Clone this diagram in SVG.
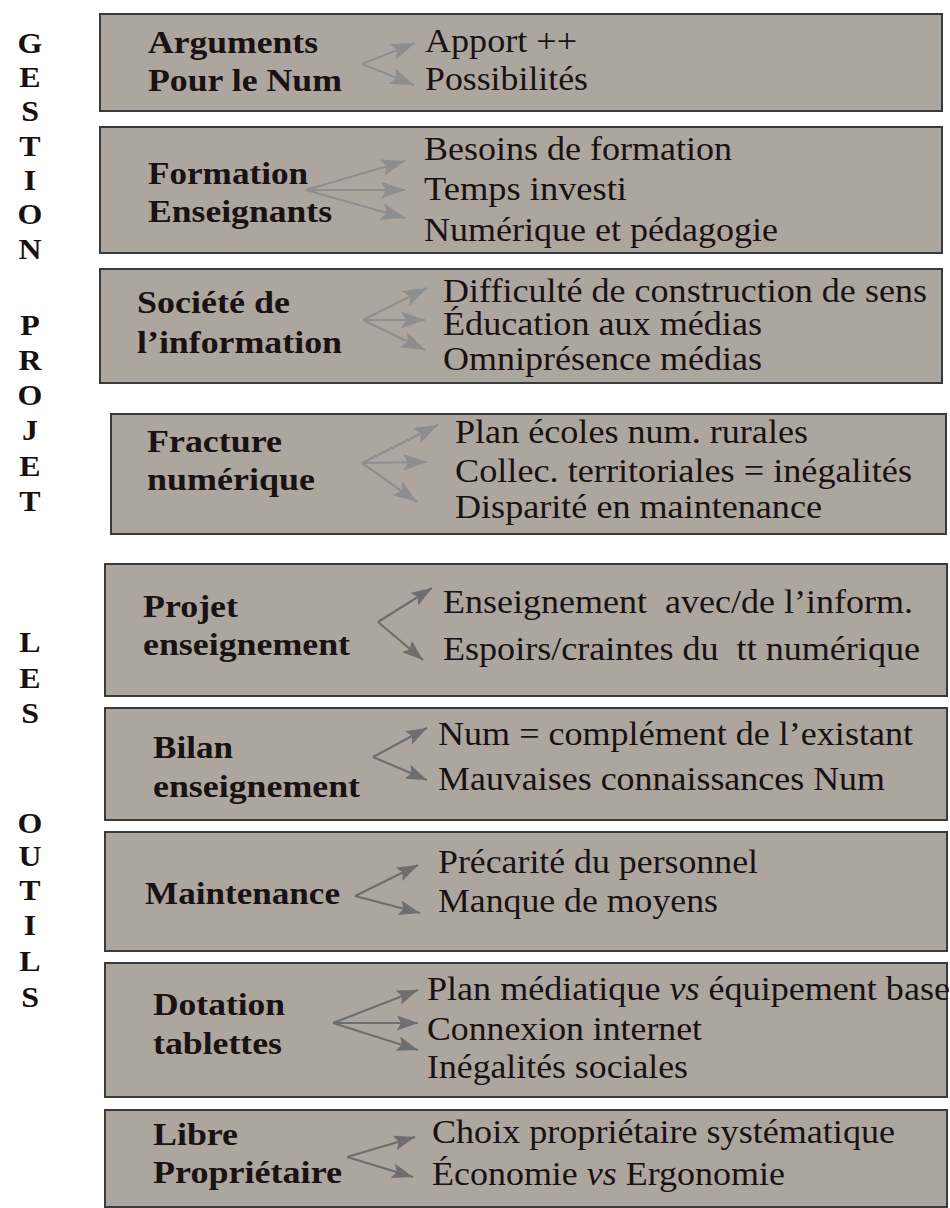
<svg xmlns="http://www.w3.org/2000/svg" width="950" height="1208" viewBox="0 0 950 1208">
<style>
.box{fill:#aca69f;stroke:#3a3a3a;stroke-width:2}
.t{font-family:"Liberation Serif","Times New Roman",serif;font-weight:bold;font-size:32px;fill:#1a1212}
.i{font-family:"Liberation Serif","Times New Roman",serif;font-size:33px;fill:#1a1212}
.side{font-family:"Liberation Serif","Times New Roman",serif;font-weight:bold;font-size:29px;fill:#161010;text-anchor:middle}
.a1{stroke:#8e8e8e;stroke-width:2.2;fill:none;marker-end:url(#h1)}
.a2{stroke:#6e6e6e;stroke-width:2.2;fill:none;marker-end:url(#h2)}
</style>
<defs>
<marker id="h1" markerUnits="userSpaceOnUse" markerWidth="26" markerHeight="18" refX="24" refY="8.5" orient="auto"><path d="M0,0 L24,8.5 L0,17 L5,8.5 z" fill="#8e8e8e"/></marker>
<marker id="h2" markerUnits="userSpaceOnUse" markerWidth="24" markerHeight="16" refX="21" refY="7.5" orient="auto"><path d="M0,0 L21,7.5 L0,15 L4,7.5 z" fill="#6e6e6e"/></marker>
</defs>
<rect width="950" height="1208" fill="#ffffff"/>
<g id="side" transform="translate(30,0) scale(1.1,1)">
<text class="side" x="0" y="53">G</text>
<text class="side" x="0" y="87">E</text>
<text class="side" x="0" y="121">S</text>
<text class="side" x="0" y="156">T</text>
<text class="side" x="0" y="190">I</text>
<text class="side" x="0" y="224">O</text>
<text class="side" x="0" y="259">N</text>
<text class="side" x="0" y="335">P</text>
<text class="side" x="0" y="370">R</text>
<text class="side" x="0" y="405">O</text>
<text class="side" x="0" y="440">J</text>
<text class="side" x="0" y="476">E</text>
<text class="side" x="0" y="511">T</text>
<text class="side" x="0" y="652">L</text>
<text class="side" x="0" y="688">E</text>
<text class="side" x="0" y="723">S</text>
<text class="side" x="0" y="833">O</text>
<text class="side" x="0" y="866">U</text>
<text class="side" x="0" y="900">T</text>
<text class="side" x="0" y="935">I</text>
<text class="side" x="0" y="971">L</text>
<text class="side" x="0" y="1007">S</text>
</g>
<g id="n1">
<rect class="box" x="100" y="14" width="842" height="97"/>
<text class="t" x="148" y="53" textLength="170" lengthAdjust="spacingAndGlyphs">Arguments</text>
<text class="t" x="148" y="91" textLength="194" lengthAdjust="spacingAndGlyphs">Pour le Num</text>
<text class="i" x="425" y="52" textLength="152" lengthAdjust="spacingAndGlyphs">Apport ++</text>
<text class="i" x="425" y="90" textLength="163" lengthAdjust="spacingAndGlyphs">Possibilités</text>
</g>
<g id="n2">
<rect class="box" x="100" y="127" width="842" height="126"/>
<text class="t" x="148" y="184" textLength="160" lengthAdjust="spacingAndGlyphs">Formation</text>
<text class="t" x="148" y="222" textLength="184" lengthAdjust="spacingAndGlyphs">Enseignants</text>
<text class="i" x="424" y="160" textLength="308" lengthAdjust="spacingAndGlyphs">Besoins de formation</text>
<text class="i" x="424" y="200" textLength="203" lengthAdjust="spacingAndGlyphs">Temps investi</text>
<text class="i" x="424" y="241" textLength="354" lengthAdjust="spacingAndGlyphs">Numérique et pédagogie</text>
</g>
<g id="n3">
<rect class="box" x="100" y="269" width="842" height="114"/>
<text class="t" x="137" y="313" textLength="153" lengthAdjust="spacingAndGlyphs">Société de</text>
<text class="t" x="137" y="353" textLength="205" lengthAdjust="spacingAndGlyphs">l’information</text>
<text class="i" x="443" y="302" textLength="484" lengthAdjust="spacingAndGlyphs">Difficulté de construction de sens</text>
<text class="i" x="443" y="335" textLength="319" lengthAdjust="spacingAndGlyphs">Éducation aux médias</text>
<text class="i" x="443" y="370" textLength="319" lengthAdjust="spacingAndGlyphs">Omniprésence médias</text>
</g>
<g id="n4">
<rect class="box" x="111" y="414" width="835" height="120"/>
<text class="t" x="147" y="452" textLength="135" lengthAdjust="spacingAndGlyphs">Fracture</text>
<text class="t" x="147" y="490" textLength="168" lengthAdjust="spacingAndGlyphs">numérique</text>
<text class="i" x="455" y="443" textLength="353" lengthAdjust="spacingAndGlyphs">Plan écoles num. rurales</text>
<text class="i" x="455" y="482" textLength="457" lengthAdjust="spacingAndGlyphs">Collec. territoriales = inégalités</text>
<text class="i" x="455" y="518" textLength="367" lengthAdjust="spacingAndGlyphs">Disparité en maintenance</text>
</g>
<g id="n5">
<rect class="box" x="105" y="564" width="842" height="132"/>
<text class="t" x="143" y="617" textLength="95" lengthAdjust="spacingAndGlyphs">Projet</text>
<text class="t" x="143" y="655" textLength="207" lengthAdjust="spacingAndGlyphs">enseignement</text>
<text class="i" x="443" y="613" textLength="470" lengthAdjust="spacingAndGlyphs">Enseignement &#160;avec/de l’inform.</text>
<text class="i" x="443" y="660" textLength="477" lengthAdjust="spacingAndGlyphs">Espoirs/craintes du &#160;tt numérique</text>
</g>
<g id="n6">
<rect class="box" x="105" y="708" width="842" height="112"/>
<text class="t" x="153" y="758" textLength="80" lengthAdjust="spacingAndGlyphs">Bilan</text>
<text class="t" x="153" y="797" textLength="207" lengthAdjust="spacingAndGlyphs">enseignement</text>
<text class="i" x="438" y="745" textLength="475" lengthAdjust="spacingAndGlyphs">Num = complément de l’existant</text>
<text class="i" x="438" y="790" textLength="447" lengthAdjust="spacingAndGlyphs">Mauvaises connaissances Num</text>
</g>
<g id="n7">
<rect class="box" x="105" y="832" width="842" height="119"/>
<text class="t" x="145" y="904" textLength="195" lengthAdjust="spacingAndGlyphs">Maintenance</text>
<text class="i" x="438" y="873" textLength="320" lengthAdjust="spacingAndGlyphs">Précarité du personnel</text>
<text class="i" x="438" y="912" textLength="280" lengthAdjust="spacingAndGlyphs">Manque de moyens</text>
</g>
<g id="n8">
<rect class="box" x="105" y="963" width="842" height="134"/>
<text class="t" x="153" y="1015" textLength="132" lengthAdjust="spacingAndGlyphs">Dotation</text>
<text class="t" x="153" y="1054" textLength="129" lengthAdjust="spacingAndGlyphs">tablettes</text>
<text class="i" x="427" y="1000" textLength="523" lengthAdjust="spacingAndGlyphs">Plan médiatique <tspan font-style="italic">vs</tspan> équipement base</text>
<text class="i" x="427" y="1040" textLength="275" lengthAdjust="spacingAndGlyphs">Connexion internet</text>
<text class="i" x="427" y="1078" textLength="261" lengthAdjust="spacingAndGlyphs">Inégalités sociales</text>
</g>
<g id="n9">
<rect class="box" x="105" y="1110" width="842" height="97"/>
<text class="t" x="153" y="1145" textLength="85" lengthAdjust="spacingAndGlyphs">Libre</text>
<text class="t" x="153" y="1183" textLength="189" lengthAdjust="spacingAndGlyphs">Propriétaire</text>
<text class="i" x="432" y="1143" textLength="463" lengthAdjust="spacingAndGlyphs">Choix propriétaire systématique</text>
<text class="i" x="432" y="1185" textLength="353" lengthAdjust="spacingAndGlyphs">Économie <tspan font-style="italic">vs</tspan> Ergonomie</text>
</g>
<g id="connectors">
<path class="a1" d="M362,64 L415,43"/>
<path class="a1" d="M362,64 L414,85"/>
<path class="a1" d="M306,190 L405,161"/>
<path class="a1" d="M306,190 L405,190"/>
<path class="a1" d="M306,190 L405,218"/>
<path class="a1" d="M363,320 L427,288"/>
<path class="a1" d="M363,320 L425,320"/>
<path class="a1" d="M363,320 L425,350"/>
<path class="a1" d="M362,463 L438,425"/>
<path class="a1" d="M362,463 L427,462"/>
<path class="a1" d="M362,463 L417,502"/>
<path class="a2" d="M378,622 L432,588"/>
<path class="a2" d="M378,622 L423,660"/>
<path class="a2" d="M373,757 L427,728"/>
<path class="a2" d="M373,757 L427,780"/>
<path class="a2" d="M355,896 L418,865"/>
<path class="a2" d="M355,896 L420,913"/>
<path class="a2" d="M333,1023 L418,990"/>
<path class="a2" d="M333,1023 L418,1023"/>
<path class="a2" d="M333,1023 L418,1050"/>
<path class="a2" d="M347,1157 L415,1137"/>
<path class="a2" d="M347,1157 L413,1177"/>
</g>
</svg>
